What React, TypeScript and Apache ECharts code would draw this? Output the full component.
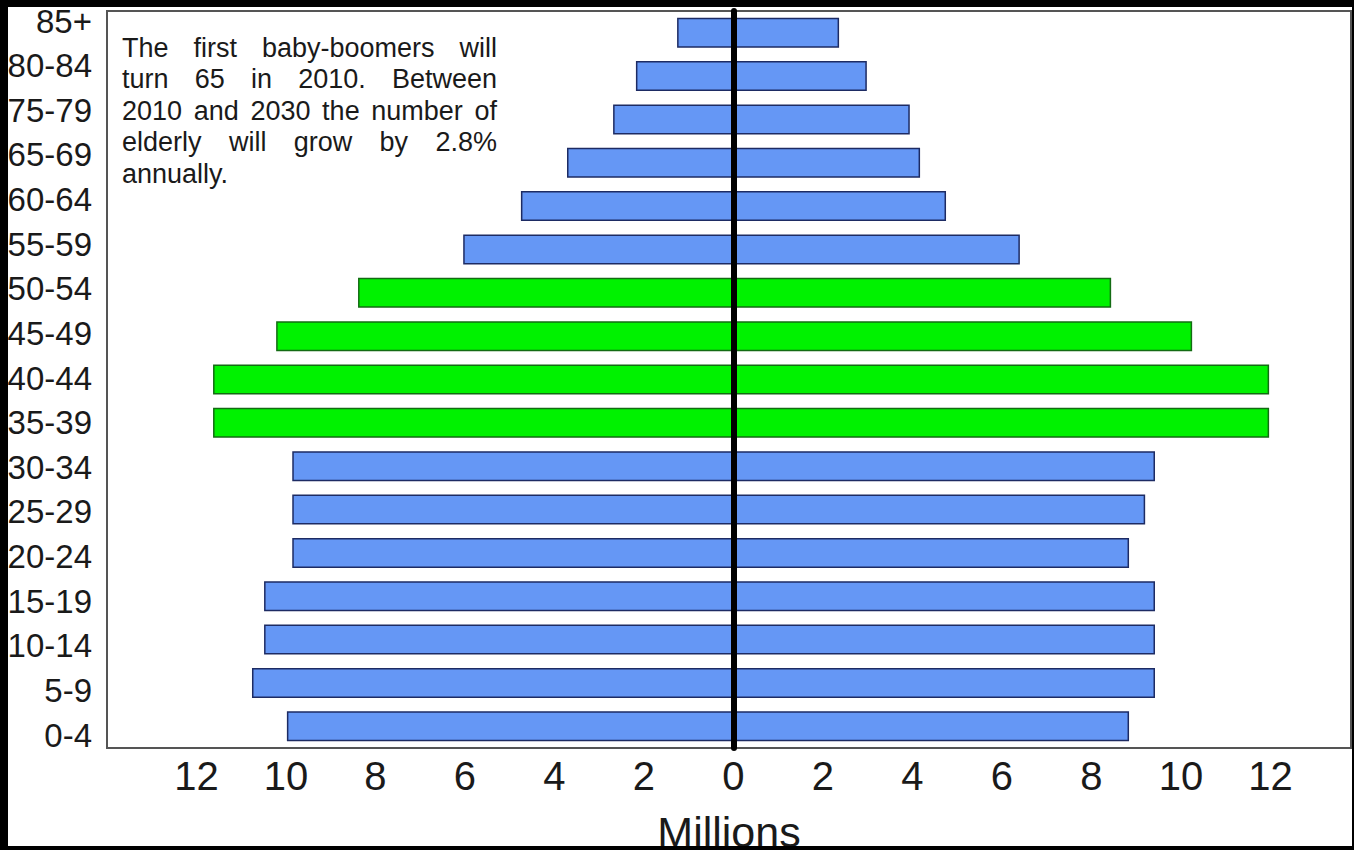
import { useEffect, useRef } from "react";
import * as echarts from "echarts";

// Age groups, bottom to top (as printed in the chart; 70-74 is absent in the source)
const ageGroups = [
  "0-4", "5-9", "10-14", "15-19", "20-24", "25-29", "30-34", "35-39",
  "40-44", "45-49", "50-54", "55-59", "60-64", "65-69", "75-79", "80-84", "85+",
];
// Left side (millions)
const leftValues = [
  9.98, 10.76, 10.49, 10.49, 9.86, 9.86, 9.86, 11.63,
  11.63, 10.22, 8.39, 6.04, 4.75, 3.72, 2.69, 2.18, 1.26,
];
// Right side (millions)
const rightValues = [
  8.84, 9.42, 9.42, 9.42, 8.84, 9.2, 9.42, 11.97,
  11.97, 10.25, 8.44, 6.4, 4.75, 4.17, 3.94, 2.98, 2.36,
];
// Baby-boomer cohorts highlighted in green
const boomerGroups = ["35-39", "40-44", "45-49", "50-54"];

const noteLines = [
  "The first baby-boomers will",
  "turn 65 in 2010. Between",
  "2010 and 2030 the number of",
  "elderly will grow by 2.8%",
  "annually.",
];

const FONT = '"Liberation Sans", Arial, Helvetica, sans-serif';
const TEXT = "#1a1a1a";
const BLUE = "#6597f5";
const BLUE_EDGE = "#1d2b63";
const GREEN = "#00f200";
const GREEN_EDGE = "#136b13";

export default function App() {
  const ref = useRef<HTMLDivElement>(null);

  useEffect(() => {
    const chart = echarts.init(ref.current!, null, { renderer: "svg" });

    // Justified annotation text
    const noteSize = 27;
    const canvas = document.createElement("canvas");
    const ctx = canvas.getContext("2d")!;
    ctx.font = `${noteSize}px "Liberation Sans"`;
    const noteLeft = 114;
    const noteRight = 489;
    const firstBaseline = 50;
    const lineStep = 31.5;
    const graphics: any[] = [];
    noteLines.forEach((line, i) => {
      const yMid = firstBaseline + i * lineStep - noteSize * 0.35;
      const last = i === noteLines.length - 1;
      const words = line.split(" ");
      if (last || words.length < 2) {
        graphics.push({
          type: "text",
          x: noteLeft,
          y: yMid,
          style: { text: line, fontSize: noteSize, fontFamily: FONT, fill: TEXT, verticalAlign: "middle" },
        });
        return;
      }
      const widths = words.map((w) => ctx.measureText(w).width);
      const total = widths.reduce((a, b) => a + b, 0);
      const gap = (noteRight - noteLeft - total) / (words.length - 1);
      let x = noteLeft;
      words.forEach((w, k) => {
        graphics.push({
          type: "text",
          x,
          y: yMid,
          style: { text: w, fontSize: noteSize, fontFamily: FONT, fill: TEXT, verticalAlign: "middle" },
        });
        x += widths[k] + gap;
      });
    });

    const styleFor = (cat: string) =>
      boomerGroups.includes(cat)
        ? { color: GREEN, borderColor: GREEN_EDGE, borderWidth: 1.5 }
        : { color: BLUE, borderColor: BLUE_EDGE, borderWidth: 1.5 };

    chart.setOption({
      animation: false,
      backgroundColor: "#ffffff",
      grid: [
        {
          left: 99, right: 1, top: 4, bottom: 98,
          outerBoundsMode: "none", containLabel: false,
          show: true, borderColor: "#555", borderWidth: 2, backgroundColor: "transparent",
        },
        { left: 99, right: 1, top: 14, bottom: 111, outerBoundsMode: "none", containLabel: false, show: false },
      ],
      xAxis: [
        {
          type: "value",
          gridIndex: 0,
          min: -14,
          max: 13.8,
          interval: 2,
          axisLine: { show: false },
          axisTick: { show: false },
          splitLine: { show: false },
          axisLabel: {
            margin: 8,
            fontSize: 40,
            fontFamily: FONT,
            color: TEXT,
            showMinLabel: false,
            showMaxLabel: false,
            formatter: (v: number) => (Math.abs(v) > 12.01 ? "" : String(Math.abs(v))),
          },
          name: "Millions",
          nameLocation: "middle",
          nameGap: 62,
          nameTextStyle: { fontSize: 43, fontFamily: FONT, color: TEXT },
        },
        { type: "value", gridIndex: 1, show: false, min: 0, max: 1 },
      ],
      yAxis: [
        {
          type: "category",
          gridIndex: 0,
          data: ageGroups,
          z: 5,
          axisLine: { show: true, onZero: true, lineStyle: { color: "#000", width: 6 } },
          axisTick: { show: false },
          axisLabel: { show: false },
          splitLine: { show: false },
        },
        {
          type: "category",
          gridIndex: 1,
          data: ageGroups,
          boundaryGap: false,
          axisLine: { show: false },
          axisTick: { show: false },
          splitLine: { show: false },
          axisLabel: { margin: 15, fontSize: 33, fontFamily: FONT, color: TEXT },
        },
      ],
      series: [
        {
          type: "bar",
          xAxisIndex: 0,
          yAxisIndex: 0,
          barWidth: 30,
          barGap: "-100%",
          data: leftValues.map((v, i) => ({ value: -v, itemStyle: styleFor(ageGroups[i]) })),
        },
        {
          type: "bar",
          xAxisIndex: 0,
          yAxisIndex: 0,
          barWidth: 30,
          barGap: "-100%",
          data: rightValues.map((v, i) => ({ value: v, itemStyle: styleFor(ageGroups[i]) })),
        },
      ],
      graphic: graphics,
    });

    return () => chart.dispose();
  }, []);

  return (
    <div style={{ position: "absolute", left: 0, top: 0, width: 1354, height: 850, background: "#000" }}>
      <div ref={ref} style={{ position: "absolute", left: 8, top: 7, width: 1344, height: 839 }} />
    </div>
  );
}
